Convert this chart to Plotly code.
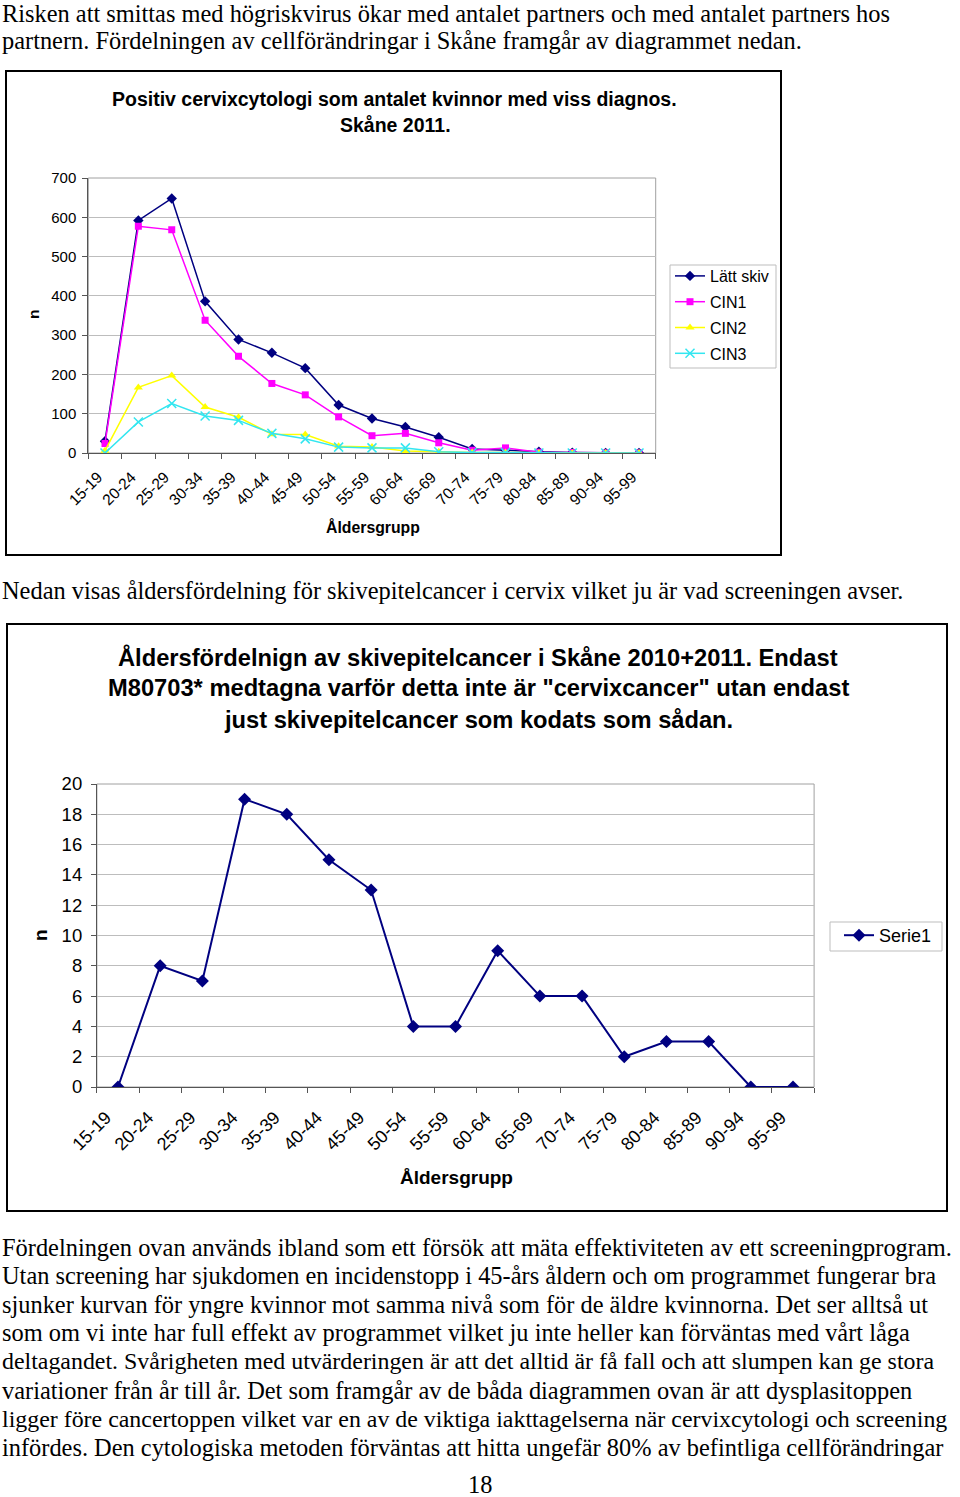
import plotly.graph_objects as go

# ---------------- data ----------------
age_groups = ["15-19", "20-24", "25-29", "30-34", "35-39", "40-44", "45-49", "50-54",
              "55-59", "60-64", "65-69", "70-74", "75-79", "80-84", "85-89", "90-94", "95-99"]
latt_skiv = [30, 592, 648, 386, 289, 255, 216, 122, 88, 66, 40, 10, 7, 3, 1, 0, 0]
cin1 = [24, 577, 568, 338, 246, 177, 148, 92, 44, 50, 26, 7, 13, 2, 1, 0, 0]
cin2 = [6, 167, 197, 117, 91, 48, 47, 17, 15, 5, 3, 1, 1, 0, 0, 0, 0]
cin3 = [0, 79, 126, 94, 83, 50, 36, 15, 13, 13, 3, 1, 1, 0, 0, 0, 0]
serie1 = [0, 8, 7, 19, 18, 15, 13, 4, 4, 9, 6, 6, 2, 3, 3, 0, 0]

chart1_title = ["Positiv cervixcytologi som antalet kvinnor med viss diagnos.", "Skåne 2011."]
chart2_title = ["Åldersfördelnign av skivepitelcancer i Skåne 2010+2011. Endast",
                "M80703* medtagna varför detta inte är \"cervixcancer\" utan endast",
                "just skivepitelcancer som kodats som sådan."]
top_text = ["Risken att smittas med högriskvirus ökar med antalet partners och med antalet partners hos",
            "partnern. Fördelningen av cellförändringar i Skåne framgår av diagrammet nedan."]
mid_text = ["Nedan visas åldersfördelning för skivepitelcancer i cervix vilket ju är vad screeningen avser."]
bottom_text = ["Fördelningen ovan används ibland som ett försök att mäta effektiviteten av ett screeningprogram.",
               "Utan screening har sjukdomen en incidenstopp i 45-års åldern och om programmet fungerar bra",
               "sjunker kurvan för yngre kvinnor mot samma nivå som för de äldre kvinnorna. Det ser alltså ut",
               "som om vi inte har full effekt av programmet vilket ju inte heller kan förväntas med vårt låga",
               "deltagandet. Svårigheten med utvärderingen är att det alltid är få fall och att slumpen kan ge stora",
               "variationer från år till år. Det som framgår av de båda diagrammen ovan är att dysplasitoppen",
               "ligger före cancertoppen vilket var en av de viktiga iakttagelserna när cervixcytologi och screening",
               "infördes. Den cytologiska metoden förväntas att hitta ungefär 80% av befintliga cellförändringar"]
page_number = "18"

# ---------------- geometry helpers ----------------
W, H = 960, 1497
def px(x):
    return x / W
def py(y):
    return 1 - y / H

SANS = "Liberation Sans, Arial, sans-serif"
SERIF = "Liberation Serif, Times New Roman, serif"

fig = go.Figure()

# chart 1 traces
fig.add_trace(go.Scatter(x=age_groups, y=latt_skiv, name="Lätt skiv", mode="lines+markers",
                         line=dict(color="#000080", width=1.5),
                         marker=dict(symbol="diamond", size=8, color="#000080"),
                         xaxis="x", yaxis="y", legend="legend", legendgroup="a"))
fig.add_trace(go.Scatter(x=age_groups, y=cin1, name="CIN1", mode="lines+markers",
                         line=dict(color="#FF00FF", width=1.5),
                         marker=dict(symbol="square", size=7, color="#FF00FF"),
                         xaxis="x", yaxis="y", legend="legend", legendgroup="b"))
fig.add_trace(go.Scatter(x=age_groups, y=cin2, name="CIN2", mode="lines+markers",
                         line=dict(color="#FFFF00", width=1.5),
                         marker=dict(symbol="triangle-up", size=8, color="#FFFF00"),
                         xaxis="x", yaxis="y", legend="legend", legendgroup="c"))
fig.add_trace(go.Scatter(x=age_groups, y=cin3, name="CIN3", mode="lines+markers",
                         line=dict(color="#33E6F0", width=1.5),
                         marker=dict(symbol="x-thin", size=9, color="#33E6F0",
                                     line=dict(color="#33E6F0", width=1.5)),
                         xaxis="x", yaxis="y", legend="legend", legendgroup="d"))

# chart 2 trace
fig.add_trace(go.Scatter(x=age_groups, y=serie1, name="Serie1", mode="lines+markers",
                         line=dict(color="#000080", width=2),
                         marker=dict(symbol="diamond", size=10, color="#000080"),
                         xaxis="x2", yaxis="y2", legend="legend2"))

axis_common = dict(showline=True, linecolor="#555555", linewidth=1, mirror=False,
                   zeroline=False, ticks="outside", tickcolor="#555555", ticklen=5,
                   automargin=False)

fig.update_layout(
    width=W, height=H,
    margin=dict(l=0, r=0, t=0, b=0, autoexpand=False),
    paper_bgcolor="white", plot_bgcolor="white",
    font=dict(family=SANS, color="black"),
    xaxis=dict(domain=[px(88.3), px(655.7)], anchor="y", type="category",
               range=[-0.5, 16.5], tickson="boundaries", showgrid=False,
               tickangle=-45, tickfont=dict(size=15.5, family=SANS),
               ticklabelstandoff=8, ticklabelshift=-7, **axis_common),
    yaxis=dict(domain=[py(453), py(178)], anchor="x", range=[0, 700], dtick=100,
               showgrid=True, gridcolor="#BDBDBD", gridwidth=1, ticklabelstandoff=3,
               tickfont=dict(size=15, family=SANS), **axis_common),
    xaxis2=dict(domain=[px(96.9), px(814.1)], anchor="y2", type="category",
                range=[-0.5, 16.5], tickson="boundaries", showgrid=False,
                tickangle=-45, tickfont=dict(size=18, family=SANS),
                ticklabelstandoff=12, ticklabelshift=-12, **axis_common),
    yaxis2=dict(domain=[py(1087), py(784)], anchor="x2", range=[0, 20], dtick=2,
                showgrid=True, gridcolor="#BDBDBD", gridwidth=1, ticklabelstandoff=5,
                tickfont=dict(size=18.5, family=SANS), **axis_common),
    legend=dict(x=px(670), y=py(259), xanchor="left", yanchor="top",
                borderwidth=0, bgcolor="rgba(0,0,0,0)",
                font=dict(size=16, family=SANS), tracegroupgap=2, itemwidth=30),
    legend2=dict(x=px(839), y=py(917), xanchor="left", yanchor="top",
                 borderwidth=0, bgcolor="rgba(0,0,0,0)",
                 font=dict(size=18, family=SANS), itemwidth=30),
    showlegend=True,
)

shapes = []
# chart frames
shapes.append(dict(type="rect", xref="paper", yref="paper", x0=px(6), x1=px(781),
                   y0=py(555), y1=py(71), line=dict(color="black", width=2)))
shapes.append(dict(type="rect", xref="paper", yref="paper", x0=px(7), x1=px(947),
                   y0=py(1211), y1=py(624), line=dict(color="black", width=2)))
# plot-area borders (gray)
shapes.append(dict(type="rect", xref="x domain", yref="y domain", x0=0, x1=1, y0=0, y1=1,
                   line=dict(color="#A0A0A0", width=1), layer="below"))
shapes.append(dict(type="rect", xref="x2 domain", yref="y2 domain", x0=0, x1=1, y0=0, y1=1,
                   line=dict(color="#A0A0A0", width=1), layer="below"))
# legend boxes
shapes.append(dict(type="rect", xref="paper", yref="paper", x0=px(670), x1=px(776),
                   y0=py(368), y1=py(265), line=dict(color="#BDBDBD", width=1)))
shapes.append(dict(type="rect", xref="paper", yref="paper", x0=px(830), x1=px(942),
                   y0=py(951), y1=py(922), line=dict(color="#BDBDBD", width=1)))
fig.update_layout(shapes=shapes)

ann = []
def text(x, y, s, size, family=SERIF, anchor="left", bold=False, angle=0):
    ann.append(dict(xref="paper", yref="paper", x=px(x), y=py(y), text=("<b>%s</b>" % s) if bold else s,
                    showarrow=False, xanchor=anchor, yanchor="middle", textangle=angle,
                    font=dict(size=size, family=family, color="black")))

SERIF_SIZE = 24.4
text(0, 13, top_text[0], SERIF_SIZE)
text(0, 40.5, top_text[1], SERIF_SIZE)
text(0, 590, mid_text[0], SERIF_SIZE)
for i, s in enumerate(bottom_text):
    text(0, 1247 + i * 28.6, s, 23.9 if len(s) > 97 else SERIF_SIZE)
text(480, 1484, page_number, SERIF_SIZE, anchor="center")

# chart 1 titles
text(394.5, 99, chart1_title[0], 19.5, family=SANS, anchor="center", bold=True)
text(395, 125, chart1_title[1], 19.5, family=SANS, anchor="center", bold=True)
text(33, 315, "n", 15.5, family=SANS, anchor="center", bold=True, angle=-90)
text(373, 527, "Åldersgrupp", 15.8, family=SANS, anchor="center", bold=True)

# chart 2 titles
for i, s in enumerate(chart2_title):
    text(478, 657 + i * 31.5, s, 23.7, family=SANS, anchor="center", bold=True)
text(40, 935, "n", 19, family=SANS, anchor="center", bold=True, angle=-90)
text(456, 1177, "Åldersgrupp", 19, family=SANS, anchor="center", bold=True)

fig.update_layout(annotations=ann)

fig.write_html("out.html",
               post_script="document.body.style.margin='0';document.body.style.overflow='hidden';")
